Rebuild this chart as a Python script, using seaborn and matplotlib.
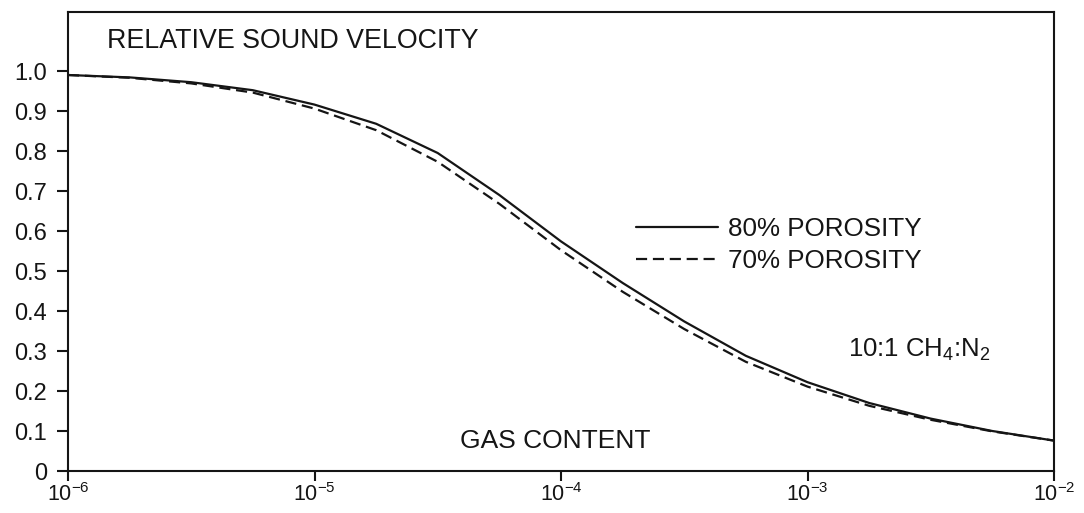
import matplotlib
matplotlib.use("Agg")
import matplotlib.pyplot as plt
import seaborn as sns
import pandas as pd
from matplotlib.ticker import LogFormatterSciNotation, FixedLocator, NullLocator

# ---- data ----
gas_content = [1.0e-6, 1.78e-6, 3.16e-6, 5.62e-6,
               1.0e-5, 1.78e-5, 3.16e-5, 5.62e-5,
               1.0e-4, 1.78e-4, 3.16e-4, 5.62e-4,
               1.0e-3, 1.78e-3, 3.16e-3, 5.62e-3, 1.0e-2]
vel_80 = [0.990, 0.984, 0.972, 0.952,
          0.916, 0.868, 0.795, 0.690,
          0.574, 0.470, 0.374, 0.288,
          0.222, 0.170, 0.131, 0.100, 0.076]
vel_70 = [0.990, 0.983, 0.969, 0.946,
          0.906, 0.852, 0.773, 0.668,
          0.552, 0.448, 0.355, 0.273,
          0.211, 0.163, 0.128, 0.099, 0.076]
series_labels = ["80% POROSITY", "70% POROSITY"]
y_ticks = [0, 0.1, 0.2, 0.3, 0.4, 0.5, 0.6, 0.7, 0.8, 0.9, 1.0]
y_tick_labels = ["0", "0.1", "0.2", "0.3", "0.4", "0.5", "0.6", "0.7", "0.8", "0.9", "1.0"]
x_ticks = [1e-6, 1e-5, 1e-4, 1e-3, 1e-2]

df = pd.DataFrame({
    "gas": gas_content * 2,
    "vel": vel_80 + vel_70,
    "series": [series_labels[0]] * len(gas_content) + [series_labels[1]] * len(gas_content),
})

sns.set_style("ticks")
plt.rcParams["font.family"] = ["Liberation Sans", "DejaVu Sans"]
plt.rcParams["mathtext.fontset"] = "custom"
plt.rcParams["mathtext.rm"] = "Liberation Sans"
plt.rcParams["mathtext.it"] = "Liberation Sans"
plt.rcParams["mathtext.default"] = "regular"

ink = "#151515"
fig = plt.figure(figsize=(10.84, 5.13), dpi=100)
ax = fig.add_axes([68 / 1084, 1 - 471 / 513, (1054 - 68) / 1084, (471 - 12) / 513])

sns.lineplot(data=df, x="gas", y="vel", style="series",
             dashes={series_labels[0]: "", series_labels[1]: (5, 2.6)},
             color=ink, linewidth=1.6, estimator=None, sort=True, ax=ax)

ax.set_xscale("log")
ax.set_xlim(1e-6, 1e-2)
ax.set_ylim(0, 1.1475)
ax.xaxis.set_major_locator(FixedLocator(x_ticks))
ax.xaxis.set_major_formatter(LogFormatterSciNotation())
ax.xaxis.set_minor_locator(NullLocator())
ax.set_yticks(y_ticks)
ax.set_yticklabels(y_tick_labels)
ax.set_xlabel("")
ax.set_ylabel("")

for s in ax.spines.values():
    s.set_visible(True)
    s.set_linewidth(1.5)
    s.set_color(ink)
ax.tick_params(axis="y", direction="out", length=8, width=1.5, pad=7, labelsize=17, colors=ink)
ax.tick_params(axis="x", direction="out", length=7, width=1.5, pad=2, labelsize=15.5, colors=ink)

ax.text(0.04, 0.937, "RELATIVE SOUND VELOCITY", transform=ax.transAxes,
        ha="left", va="center", fontsize=19.3, color=ink)
ax.text(0.494, 0.065, "GAS CONTENT", transform=ax.transAxes,
        ha="center", va="center", fontsize=19, color=ink)
ax.text(0.791, 0.2636, r"10:1 CH$_4$:N$_2$", transform=ax.transAxes,
        ha="left", va="center", fontsize=18.5, color=ink)

leg = ax.legend(loc="upper left", bbox_to_anchor=(0.576, 0.553), frameon=False,
                fontsize=18.7, handlelength=3.15, handletextpad=0.39,
                borderpad=0, borderaxespad=0, labelspacing=0.3)
for t in leg.get_texts():
    t.set_color(ink)

fig.savefig("out.png", dpi=100, facecolor="white")
